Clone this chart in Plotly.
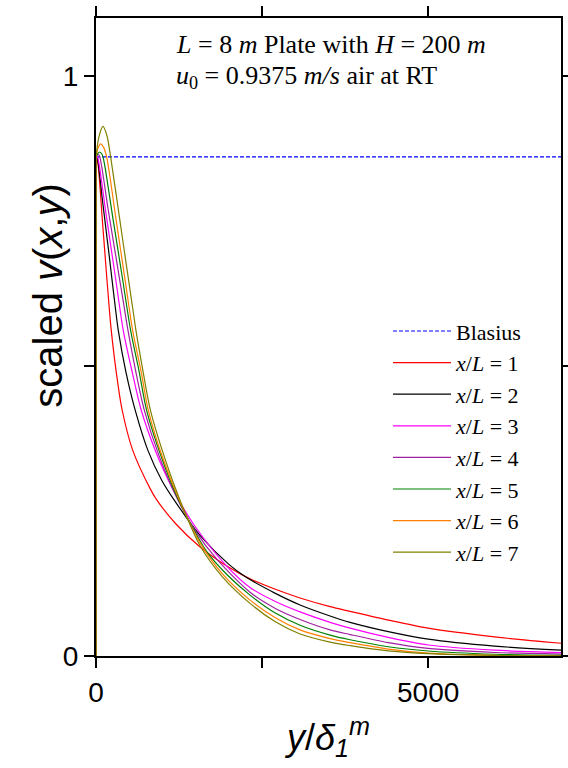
import plotly.graph_objects as go

# ---- data ----
# each curve: vertical rise at y/delta = 0 (0 -> ~0.86), gap, then the profile
blasius_x = [0, 0, None, 0, 7000]
blasius_y = [0, 0.8604, None, 0.8604, 0.8604]

x1 = [0, 0, None, 0, 10, 25, 100, 230, 331, 392, 552, 813, 904, 1200, 1566, 2000, 2319, 2700, 3072, 3524, 3825, 4400, 5000, 6000, 7000]
y1 = [0, 0.855, None, 0.855, 0.857, 0.853, 0.745, 0.561, 0.468, 0.425, 0.355, 0.289, 0.271, 0.228, 0.188, 0.153, 0.133, 0.115, 0.100, 0.085, 0.077, 0.062, 0.048, 0.033, 0.022]

x2 = [0, 0, None, 0, 10, 20, 100, 200, 276, 336, 450, 592, 780, 989, 1170, 1566, 2000, 2244, 2700, 3072, 3524, 3825, 4400, 5000, 6000, 7000]
y2 = [0, 0.858, None, 0.858, 0.86, 0.858, 0.783, 0.689, 0.615, 0.561, 0.49, 0.423, 0.355, 0.303, 0.27, 0.208, 0.158, 0.137, 0.108, 0.088, 0.069, 0.058, 0.042, 0.029, 0.017, 0.010]

x3 = [0, 0, None, 0, 10, 25, 150, 300, 411, 550, 678, 900, 1089, 1215, 1500, 1968, 2319, 2700, 3072, 3524, 3825, 4400, 5000, 6000, 7000]
y3 = [0, 0.859, None, 0.859, 0.862, 0.86, 0.763, 0.647, 0.561, 0.487, 0.425, 0.352, 0.303, 0.275, 0.222, 0.155, 0.118, 0.094, 0.076, 0.058, 0.048, 0.032, 0.019, 0.010, 0.0057]

x4 = [0, 0, None, 0, 15, 30, 50, 180, 300, 411, 482, 600, 728, 950, 1235, 1500, 1818, 2319, 2700, 3072, 3524, 3825, 4400, 5000, 6000, 7000]
y4 = [0, 0.86, None, 0.86, 0.864, 0.865, 0.863, 0.772, 0.688, 0.611, 0.561, 0.49, 0.4234, 0.345, 0.2685, 0.215, 0.167, 0.11, 0.082, 0.063, 0.045, 0.037, 0.023, 0.013, 0.006, 0.0034]

x5 = [0, 0, None, 0, 25, 55, 90, 120, 250, 400, 522, 650, 763, 1000, 1245, 1667, 2000, 2319, 2700, 3072, 3524, 3825, 4400, 5000, 6000, 7000]
y5 = [0, 0.86, None, 0.86, 0.866, 0.869, 0.865, 0.853, 0.758, 0.65, 0.561, 0.49, 0.423, 0.338, 0.2685, 0.18, 0.137, 0.105, 0.074, 0.053, 0.036, 0.028, 0.016, 0.0086, 0.003, 0.001]

x6 = [0, 0, None, 0, 30, 70, 115, 161, 300, 450, 552, 680, 788, 1000, 1255, 1566, 1900, 2319, 2700, 3072, 3524, 3825, 4400, 5000, 6000, 7000]
y6 = [0, 0.86, None, 0.86, 0.876, 0.883, 0.877, 0.86, 0.754, 0.639, 0.561, 0.49, 0.423, 0.343, 0.2685, 0.195, 0.142, 0.0964, 0.066, 0.045, 0.030, 0.023, 0.012, 0.005, 0.001, 0.0]

x7 = [0, 0, None, 0, 40, 105, 165, 221, 400, 537, 602, 700, 820, 1050, 1265, 1566, 1900, 2319, 2700, 3072, 3524, 3825, 4400, 5000, 6000, 7000]
y7 = [0, 0.86, None, 0.86, 0.893, 0.913, 0.897, 0.86, 0.719, 0.612, 0.561, 0.496, 0.4234, 0.336, 0.2685, 0.19, 0.137, 0.0907, 0.059, 0.038, 0.024, 0.018, 0.009, 0.004, 0.001, 0.0]

series_names = ["<i>x</i>/<i>L</i> = 1", "<i>x</i>/<i>L</i> = 2", "<i>x</i>/<i>L</i> = 3",
                "<i>x</i>/<i>L</i> = 4", "<i>x</i>/<i>L</i> = 5", "<i>x</i>/<i>L</i> = 6",
                "<i>x</i>/<i>L</i> = 7"]
series_x = [x1, x2, x3, x4, x5, x6, x7]
series_y = [y1, y2, y3, y4, y5, y6, y7]
series_colors = ["#FF0000", "#000000", "#FF00FF", "#A020A0", "#008000", "#FF8000", "#808000"]

x_major = [0, 5000]
x_minor = [2500]
y_major = [0, 1]
y_minor = [0.5]

fig = go.Figure()
fig.add_trace(go.Scatter(x=blasius_x, y=blasius_y, mode="lines", name="Blasius",
                         connectgaps=False,
                         line=dict(color="#0000FF", width=1.2, dash="4px,2px")))
for nm, xs, ys, c in zip(series_names, series_x, series_y, series_colors):
    fig.add_trace(go.Scatter(x=xs, y=ys, mode="lines", name=nm,
                             connectgaps=False,
                             line=dict(color=c, width=1.2, shape="spline", smoothing=0.8)))

axis_common = dict(showline=True, linewidth=2, linecolor="black", mirror="allticks",
                   ticks="outside", ticklen=10, tickwidth=2, tickcolor="black",
                   showgrid=False, zeroline=False, layer="below traces", automargin=False,
                   tickfont=dict(family="Liberation Sans, Arial", size=28, color="black"))
minor_common = dict(ticks="outside", ticklen=10, tickwidth=2, tickcolor="black", showgrid=False)

fig.update_xaxes(range=[0, 7000], tickmode="array", tickvals=x_major,
                 minor=dict(tickvals=x_minor, **minor_common),
                 title=dict(text="<i>y</i>/<i>δ</i><sub><i>1</i></sub><sup><i>m</i></sup>",
                            font=dict(family="Liberation Sans, Arial", size=36, color="black"),
                            standoff=18),
                 **axis_common)
fig.update_yaxes(range=[0, 1.1], tickmode="array", tickvals=y_major,
                 minor=dict(tickvals=y_minor, **minor_common),
                 **axis_common)

# y-axis title (rotated text, sitting a little above the axis centre as in the reference)
fig.add_annotation(xref="paper", yref="paper", x=-0.105, y=0.565, xanchor="center", yanchor="middle",
                   textangle=-90, showarrow=False,
                   text="scaled <i>v</i>(<i>x</i>,<i>y</i>)",
                   font=dict(family="Liberation Sans, Arial", size=40, color="black"))

fig.add_annotation(xref="paper", yref="paper", x=0.1677, y=0.959, xanchor="left", yanchor="middle",
                   text="<i>L</i> = 8 <i>m</i> Plate with <i>H</i> = 200 <i>m</i>", showarrow=False,
                   font=dict(family="Liberation Serif, Times New Roman", size=26, color="black"))
fig.add_annotation(xref="paper", yref="paper", x=0.1677, y=0.908, xanchor="left", yanchor="middle",
                   text="<i>u</i><sub>0</sub> = 0.9375 <i>m/s</i> air at RT", showarrow=False,
                   font=dict(family="Liberation Serif, Times New Roman", size=26, color="black"))

fig.update_layout(
    width=568, height=768,
    margin=dict(l=96, r=7, t=18, b=112),
    plot_bgcolor="white", paper_bgcolor="white",
    showlegend=True,
    legend=dict(x=0.628, y=0.542, xanchor="left", yanchor="top", bgcolor="rgba(0,0,0,0)",
                font=dict(family="Liberation Serif, Times New Roman", size=22, color="black"),
                itemwidth=58, traceorder="normal"),
)

fig.write_html("out.html")
